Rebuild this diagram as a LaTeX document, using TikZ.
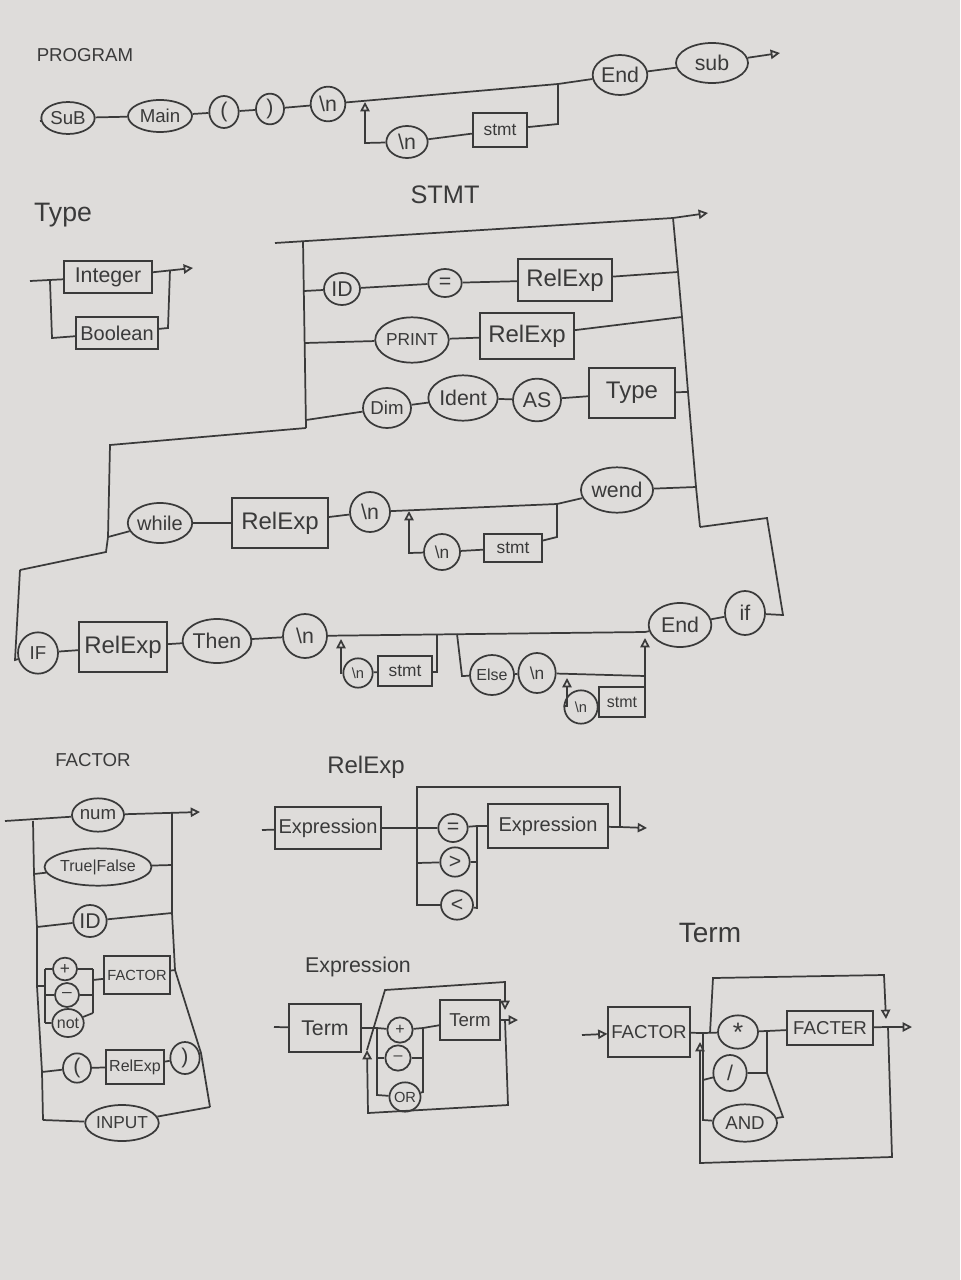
\documentclass[tikz,border=0pt]{standalone}
\usepackage{fontspec}
\setmainfont{Liberation Sans}
\usetikzlibrary{shapes.geometric,arrows.meta}
\definecolor{ink}{RGB}{58,58,58}
\definecolor{paper}{RGB}{222,220,218}

\begin{document}
\begin{tikzpicture}[x=0.75pt,y=0.75pt,yscale=-1,color=ink,line width=1.3pt,
  tokn/.style={ellipse,draw,inner sep=0pt,font=\fontsize{16}{18}\selectfont},
  ntbox/.style={rectangle,draw,inner sep=2pt,font=\fontsize{16}{18}\selectfont},
  ttl/.style={inner sep=0pt},
  endtip/.style={-{Triangle[open,length=7pt,width=7pt]}}]
%paper
\fill[paper] (0,0) rectangle (960,1280);
\useasboundingbox (0,0) rectangle (960,1280);

%%% PROGRAM
% Text Node
\node[ttl,font=\fontsize{14}{16}\selectfont] (tProg) at (85,55) {PROGRAM};
\coordinate (pIn) at (40,121);
\node[tokn,font=\fontsize{14}{16}\selectfont,minimum width=40pt,minimum height=24pt] (pSub) at (68,118) {SuB};
\node[tokn,font=\fontsize{14}{16}\selectfont,minimum width=48pt,minimum height=24pt] (pMain) at (160,116) {Main};
\node[tokn,minimum width=22pt,minimum height=24pt] (pLp) at (224,112) {(};
\node[tokn,minimum width=21pt,minimum height=23pt] (pRp) at (270,109) {)};
\node[tokn,minimum width=26pt,minimum height=26pt] (pNl) at (328,104) {\textbackslash n};
\coordinate (pA) at (365,102);
\coordinate (pB) at (558,84);
\node[tokn,minimum width=41pt,minimum height=30pt] (pEnd) at (620,75) {End};
\node[tokn,minimum width=54pt,minimum height=30pt] (pSub2) at (712,63) {sub};
\coordinate (pOut) at (780,53);
\coordinate (pL) at (365,143);
\node[tokn,minimum width=31pt,minimum height=24pt] (pNl2) at (407,142) {\textbackslash n};
\node[ntbox,minimum width=41pt,minimum height=25pt,font=\fontsize{13}{15}\selectfont] (pStmt) at (500,130) {stmt};
\coordinate (pR) at (558,124);
%Straight Lines
\draw (pIn) -- (pSub) -- (pMain) -- (pLp) -- (pRp) -- (pNl) -- (pB) -- (pEnd) -- (pSub2);
\draw[endtip] (pSub2) -- (pOut);
\draw (pB) -- (pR) -- (pStmt) -- (pNl2);
\draw[endtip] (pNl2) -- (pL) -- (pA);

%%% Type
% Text Node
\node[ttl,font=\fontsize{20}{22}\selectfont] (tType) at (63,215) {Type};
\coordinate (tyIn) at (30,281);
\coordinate (tyL1) at (50,281);
\coordinate (tyL2) at (52,338);
\node[ntbox,minimum width=66pt,minimum height=24pt] (tyInt) at (108,277) {Integer};
\node[ntbox,minimum width=61pt,minimum height=24pt,font=\fontsize{15}{17}\selectfont] (tyBool) at (117,333) {Boolean};
\coordinate (tyR1) at (170,270);
\coordinate (tyR2) at (168,328);
\coordinate (tyOut) at (193,268);
%Straight Lines
\draw (tyIn) -- (tyInt);
\draw (tyL1) -- (tyL2) -- (tyBool);
\draw[endtip] (tyInt) -- (tyOut);
\draw (tyBool) -- (tyR2) -- (tyR1);

%%% STMT
% Text Node
\node[ttl,font=\fontsize{19}{21}\selectfont] (tStmt) at (445,195) {STMT};
\coordinate (sIn) at (275,243);
\coordinate (sTL) at (303,241);
\coordinate (sTR) at (673,218);
\coordinate (sOut) at (708,213);
\coordinate (sBL) at (306,428);
\coordinate (s1L) at (304,291);
\node[tokn,minimum width=27pt,minimum height=24pt] (sID) at (342,289) {ID};
\node[tokn,minimum width=25pt,minimum height=21pt] (sEq) at (445,283) {=};
\node[ntbox,minimum width=71pt,minimum height=32pt,font=\fontsize{18}{20}\selectfont] (sRel1) at (565,280) {RelExp};
\coordinate (s1R) at (678,272);
\coordinate (s2L) at (305,343);
\node[tokn,minimum width=52pt,minimum height=34pt,font=\fontsize{13}{15}\selectfont] (sPrint) at (412,340) {PRINT};
\node[ntbox,minimum width=70pt,minimum height=34pt,font=\fontsize{18}{20}\selectfont] (sRel2) at (527,336) {RelExp};
\coordinate (s2R) at (682,317);
\coordinate (s3L) at (306,420);
\node[tokn,minimum width=36pt,minimum height=30pt,font=\fontsize{14}{16}\selectfont] (sDim) at (387,408) {Dim};
\node[tokn,minimum width=52pt,minimum height=34pt] (sIdent) at (463,398) {Ident};
\node[tokn,minimum width=36pt,minimum height=32pt] (sAS) at (537,400) {AS};
\node[ntbox,minimum width=64pt,minimum height=37pt,font=\fontsize{18}{20}\selectfont] (sType) at (632,393) {Type};
\coordinate (s3R) at (688,392);
\coordinate (sRB) at (700,527);
\coordinate (sW0) at (110,445);
\coordinate (sW1) at (106,552);
\coordinate (sW2) at (20,570);
%Straight Lines
\draw[endtip] (sIn) -- (sTR) -- (sOut);
\draw (sTL) -- (sBL);
\draw (s1L) -- (sID) -- (sEq) -- (sRel1) -- (s1R);
\draw (s2L) -- (sPrint) -- (sRel2) -- (s2R);
\draw (s3L) -- (sDim) -- (sIdent) -- (sAS) -- (sType) -- (s3R);

%%% while
\coordinate (wL) at (108,537);
\node[tokn,minimum width=46pt,minimum height=30pt,font=\fontsize{15}{17}\selectfont] (wWhile) at (160,523) {while};
\node[ntbox,minimum width=72pt,minimum height=37pt,font=\fontsize{18}{20}\selectfont] (wRel) at (280,523) {RelExp};
\node[tokn,minimum width=30pt,minimum height=30pt] (wNl) at (370,512) {\textbackslash n};
\coordinate (wA) at (409,511);
\coordinate (wB) at (557,504);
\node[tokn,minimum width=54pt,minimum height=34pt] (wWend) at (617,490) {wend};
\coordinate (wR) at (696,487);
\coordinate (wL1) at (409,553);
\node[tokn,minimum width=27pt,minimum height=27pt,font=\fontsize{13}{15}\selectfont] (wNl2) at (442,552) {\textbackslash n};
\node[ntbox,minimum width=43pt,minimum height=21pt,font=\fontsize{13}{15}\selectfont] (wStmt) at (513,548) {stmt};
\coordinate (wR1) at (557,537);
%Straight Lines
\draw (sBL) -- (sW0) -- (wL) -- (sW1) -- (sW2);
\draw (sTR) -- (s1R) -- (s2R) -- (s3R) -- (wR) -- (sRB);
\draw (wL) -- (wWhile) -- (wRel) -- (wNl) -- (wB) -- (wWend) -- (wR);
\draw (wB) -- (wR1) -- (wStmt) -- (wNl2);
\draw[endtip] (wNl2) -- (wL1) -- (wA);

%%% IF
\coordinate (iL) at (15,660);
\node[tokn,minimum width=30pt,minimum height=31pt,font=\fontsize{14}{16}\selectfont] (iIf) at (38,653) {IF};
\node[ntbox,minimum width=66pt,minimum height=37pt,font=\fontsize{18}{20}\selectfont] (iRel) at (123,647) {RelExp};
\node[tokn,minimum width=49pt,minimum height=33pt] (iThen) at (217,641) {Then};
\node[tokn,minimum width=33pt,minimum height=33pt] (iNl) at (305,636) {\textbackslash n};
\coordinate (iA) at (341,639);
\coordinate (iB) at (437,635);
\coordinate (iE0) at (457,634);
\coordinate (iM) at (645,632);
\coordinate (iEA) at (645,638);
\node[tokn,minimum width=47pt,minimum height=33pt] (iEnd) at (680,625) {End};
\node[tokn,minimum width=30pt,minimum height=33pt] (iIf2) at (745,613) {if};
\coordinate (iR) at (783,615);
\coordinate (iRT) at (767,518);
\coordinate (iL1) at (341,673);
\node[tokn,minimum width=22pt,minimum height=22pt,font=\fontsize{11}{13}\selectfont] (iNl2) at (358,673) {\textbackslash n};
\node[ntbox,minimum width=40pt,minimum height=22pt,font=\fontsize{13}{15}\selectfont] (iStmt) at (405,671) {stmt};
\coordinate (iR1) at (437,672);
\coordinate (iE1) at (462,676);
\node[tokn,minimum width=28pt,minimum height=30pt,font=\fontsize{12}{14}\selectfont] (iElse) at (492,675) {Else};
\node[tokn,minimum width=28pt,minimum height=30pt,font=\fontsize{13}{15}\selectfont] (iNl3) at (537,673) {\textbackslash n};
\coordinate (iEA2) at (567,678);
\coordinate (iER) at (645,676);
\coordinate (iL3) at (567,706);
\node[tokn,minimum width=25pt,minimum height=25pt,font=\fontsize{11}{13}\selectfont] (iNl4) at (581,707) {\textbackslash n};
\node[ntbox,minimum width=34pt,minimum height=22pt,font=\fontsize{12}{14}\selectfont] (iStmt2) at (622,702) {stmt};
\coordinate (iR3) at (645,700);
%Straight Lines
\draw (sW2) -- (iL) -- (iIf) -- (iRel) -- (iThen) -- (iNl) -- (iM) -- (iEnd) -- (iIf2) -- (iR) -- (iRT) -- (sRB);
\draw (iB) -- (iR1) -- (iStmt) -- (iNl2);
\draw[endtip] (iNl2) -- (iL1) -- (iA);
\draw (iE0) -- (iE1) -- (iElse) -- (iNl3) -- (iER);
\draw (iStmt2) -- (iR3);
\draw[endtip] (iR3) -- (iER) -- (iEA);
\draw[endtip] (iNl4) -- (iL3) -- (iEA2);

%%% FACTOR
% Text Node
\node[ttl,font=\fontsize{14}{16}\selectfont] (tFac) at (93,760) {FACTOR};
\coordinate (fIn) at (5,821);
\node[tokn,minimum width=39pt,minimum height=25pt,font=\fontsize{14}{16}\selectfont] (fNum) at (98,815) {num};
\coordinate (fR0) at (172,812);
\coordinate (fOut) at (200,812);
\coordinate (fL0) at (33,821);
\coordinate (fL1) at (34,874);
\node[tokn,minimum width=75pt,minimum height=28pt,font=\fontsize{12}{14}\selectfont] (fTF) at (98,867) {True|False};
\coordinate (fR1) at (172,865);
\coordinate (fL2) at (37,927);
\node[tokn,minimum width=25pt,minimum height=24pt] (fID) at (90,921) {ID};
\coordinate (fR2) at (172,913);
\coordinate (fL3) at (37,986);
\coordinate (gL0) at (45,969);
\coordinate (gL1) at (45,986);
\coordinate (gLm) at (45,995);
\coordinate (gL2) at (45,1023);
\node[tokn,minimum width=18pt,minimum height=17pt,font=\fontsize{13}{15}\selectfont] (fPlus) at (65,969) {+};
\node[tokn,minimum width=18pt,minimum height=18pt,font=\fontsize{13}{15}\selectfont] (fMinus) at (67,995) {–};
\node[tokn,minimum width=22pt,minimum height=21pt,font=\fontsize{12}{14}\selectfont] (fNot) at (68,1023) {not};
\coordinate (gR0) at (93,969);
\coordinate (gR1) at (93,995);
\coordinate (gRx) at (93,980);
\coordinate (gR2) at (93,1013);
\node[ntbox,minimum width=49pt,minimum height=28pt,font=\fontsize{11}{13}\selectfont] (fFac) at (137,975) {FACTOR};
\coordinate (fR3) at (175,970);
\coordinate (fL4) at (42,1072);
\node[tokn,minimum width=21pt,minimum height=22pt] (fLp) at (77,1068) {(};
\node[ntbox,minimum width=43pt,minimum height=25pt,font=\fontsize{12}{14}\selectfont] (fRel) at (135,1067) {RelExp};
\node[tokn,minimum width=22pt,minimum height=24pt] (fRp) at (185,1058) {)};
\coordinate (fR4) at (201,1053);
\coordinate (fL5) at (43,1120);
\node[tokn,minimum width=52pt,minimum height=27pt,font=\fontsize{13}{15}\selectfont] (fInput) at (122,1123) {INPUT};
\coordinate (fR5) at (210,1107);
%Straight Lines
\draw (fIn) -- (fNum);
\draw[endtip] (fNum) -- (fOut);
\draw (fL0) -- (fL1) -- (fL2) -- (fL3) -- (fL4) -- (fL5);
\draw (fR0) -- (fR1) -- (fR2) -- (fR3) -- (fR4) -- (fR5);
\draw (fL1) -- (fTF) -- (fR1);
\draw (fL2) -- (fID) -- (fR2);
\draw (fL3) -- (gL1);
\draw (gL0) -- (gL2);
\draw (gL0) -- (fPlus) -- (gR0);
\draw (gLm) -- (fMinus) -- (gR1);
\draw (gL2) -- (fNot) -- (gR2);
\draw (gR0) -- (gR2);
\draw (gRx) -- (fFac) -- (fR3);
\draw (fL4) -- (fLp) -- (fRel) -- (fRp) -- (fR4);
\draw (fL5) -- (fInput) -- (fR5);

%%% RelExp
% Text Node
\node[ttl,font=\fontsize{18}{20}\selectfont] (tRel) at (366,767) {RelExp};
\coordinate (rIn) at (262,830);
\node[ntbox,minimum width=79pt,minimum height=31pt,font=\fontsize{15}{17}\selectfont] (rExp1) at (328,828) {Expression};
\coordinate (rJ) at (417,828);
\coordinate (rT0) at (417,787);
\coordinate (rT1) at (620,787);
\coordinate (rT2) at (620,827);
\coordinate (rG1) at (417,863);
\coordinate (rG2) at (417,905);
\node[tokn,minimum width=22pt,minimum height=21pt] (rEq) at (453,828) {=};
\node[tokn,minimum width=22pt,minimum height=22pt] (rGt) at (455,862) {>};
\node[tokn,minimum width=24pt,minimum height=22pt] (rLt) at (457,905) {<};
\coordinate (rH0) at (477,826);
\coordinate (rH1) at (477,862);
\coordinate (rH2) at (477,908);
\node[ntbox,minimum width=90pt,minimum height=33pt,font=\fontsize{15}{17}\selectfont] (rExp2) at (548,826) {Expression};
\coordinate (rOut) at (647,828);
%Straight Lines
\draw (rIn) -- (rExp1) -- (rJ) -- (rEq) -- (rH0) -- (rExp2) -- (rT2);
\draw[endtip] (rT2) -- (rOut);
\draw (rJ) -- (rT0) -- (rT1) -- (rT2);
\draw (rJ) -- (rG2) -- (rLt) -- (rH2) -- (rH0);
\draw (rG1) -- (rGt) -- (rH1);

%%% Expression
% Text Node
\node[ttl,font=\fontsize{16}{18}\selectfont] (tExpr) at (358,967) {Expression};
\coordinate (eIn) at (274,1027);
\node[ntbox,minimum width=54pt,minimum height=36pt] (eTerm1) at (325,1028) {Term};
\coordinate (eJ) at (377,1028);
\node[tokn,minimum width=19pt,minimum height=19pt,font=\fontsize{12}{14}\selectfont] (ePlus) at (400,1030) {+};
\node[tokn,minimum width=19pt,minimum height=19pt,font=\fontsize{12}{14}\selectfont] (eMinus) at (398,1058) {–};
\node[tokn,minimum width=22pt,minimum height=22pt,font=\fontsize{11}{13}\selectfont] (eOr) at (405,1097) {OR};
\coordinate (eG1) at (377,1058);
\coordinate (eG2) at (377,1095);
\coordinate (eH0) at (423,1028);
\coordinate (eH1) at (423,1058);
\coordinate (eH2) at (423,1092);
\node[ntbox,minimum width=45pt,minimum height=30pt,font=\fontsize{14}{16}\selectfont] (eTerm2) at (470,1020) {Term};
\coordinate (eX) at (505,1020);
\coordinate (eOut) at (518,1020);
\coordinate (eRA) at (505,1010);
\coordinate (eTR) at (505,982);
\coordinate (eTL) at (385,990);
\coordinate (eLA) at (367,1050);
\coordinate (eBL) at (368,1113);
\coordinate (eBR) at (508,1105);
%Straight Lines
\draw (eIn) -- (eTerm1) -- (eJ) -- (ePlus) -- (eH0) -- (eTerm2) -- (eX);
\draw[endtip] (eX) -- (eOut);
\draw (eJ) -- (eG2) -- (eOr) -- (eH2) -- (eH0);
\draw (eG1) -- (eMinus) -- (eH1);
\draw[endtip] (eX) -- (eBR) -- (eBL) -- (eLA);
\draw[endtip] (eLA) -- (eTL) -- (eTR) -- (eRA);

%%% Term
% Text Node
\node[ttl,font=\fontsize{21}{23}\selectfont] (tTerm) at (710,933) {Term};
\coordinate (tIn) at (582,1035);
\node[ntbox,minimum width=61pt,minimum height=37pt,font=\fontsize{14}{16}\selectfont] (tFac1) at (649,1032) {FACTOR};
\coordinate (tJ) at (703,1033);
\coordinate (tLA) at (700,1042);
\coordinate (tTL0) at (710,1033);
\coordinate (tTL) at (713,978);
\coordinate (tTR) at (884,975);
\coordinate (tRA) at (886,1019);
\node[tokn,minimum width=30pt,minimum height=25pt,font=\fontsize{20}{22}\selectfont] (tStar) at (738,1032) {*};
\node[tokn,minimum width=25pt,minimum height=27pt] (tDiv) at (730,1073) {/};
\node[tokn,minimum width=48pt,minimum height=28pt,font=\fontsize{14}{16}\selectfont] (tAnd) at (745,1123) {AND};
\coordinate (tG1) at (703,1080);
\coordinate (tG2) at (703,1120);
\coordinate (tH0) at (767,1031);
\coordinate (tH1) at (767,1073);
\coordinate (tH2) at (783,1117);
\node[ntbox,minimum width=64pt,minimum height=25pt,font=\fontsize{14}{16}\selectfont] (tFac2) at (830,1028) {FACTER};
\coordinate (tX) at (888,1027);
\coordinate (tOut) at (912,1027);
\coordinate (tBR) at (892,1157);
\coordinate (tBL) at (700,1163);
%Straight Lines
\draw[endtip] (tIn) -- (tFac1);
\draw (tFac1) -- (tJ) -- (tStar) -- (tH0) -- (tFac2) -- (tX);
\draw[endtip] (tX) -- (tOut);
\draw (tJ) -- (tG2) -- (tAnd) -- (tH2) -- (tH1) -- (tH0);
\draw (tG1) -- (tDiv) -- (tH1);
\draw[endtip] (tX) -- (tBR) -- (tBL) -- (tLA);
\draw[endtip] (tTL0) -- (tTL) -- (tTR) -- (tRA);

\end{tikzpicture}
\end{document}
